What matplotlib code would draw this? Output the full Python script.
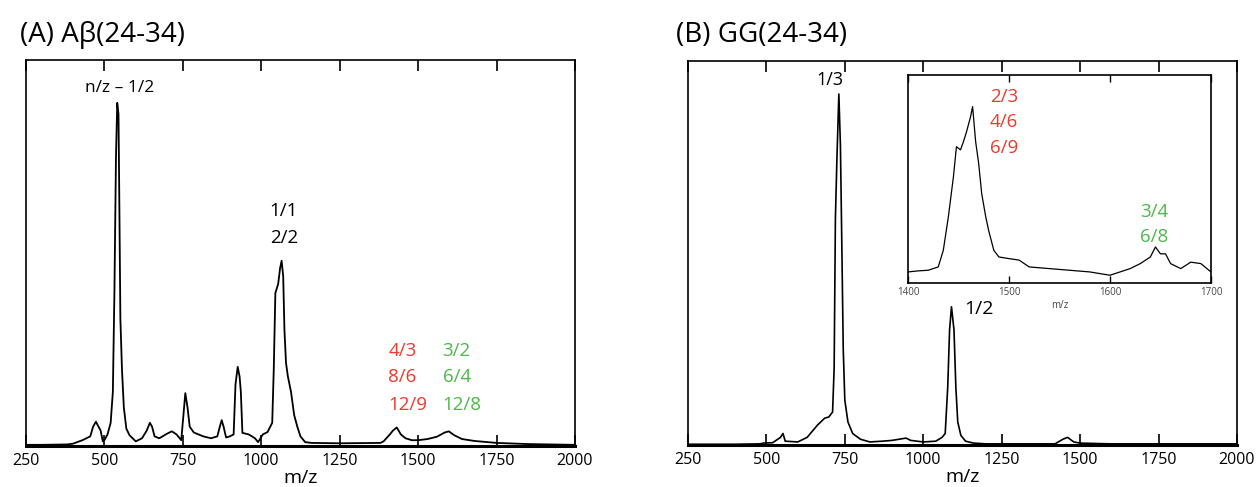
import matplotlib.pyplot as plt

plt.rcParams['font.family'] = ['Open Sans', 'DejaVu Sans']

RED = '#ee3a2e'
GREEN = '#4cb848'

# Panel A - Abeta(24-34), intensity as % of the axis height
mzA = [250, 300, 380, 400, 430, 455, 464, 473, 480, 488, 495, 500, 510, 520,
       527, 532, 537, 541, 545, 548, 551, 556, 562, 570, 580, 600, 620, 635,
       645, 652, 660, 675, 700, 715, 730, 745, 752, 758, 765, 772, 785, 800,
       815, 840, 860, 868, 874, 880, 888, 900, 912, 918, 925, 931, 935, 940,
       960, 980, 990, 1005, 1020, 1035, 1040, 1045, 1054, 1060, 1065, 1070,
       1074, 1079, 1085, 1095, 1105, 1115, 1125, 1140, 1160, 1250, 1380,
       1390, 1410, 1420, 1432, 1445, 1460, 1480, 1500, 1530, 1560, 1585,
       1598, 1615, 1640, 1680, 1750, 1850, 2000]
intA = [0.3, 0.3, 0.4, 0.6, 1.5, 2.5, 5.0, 6.3, 5.2, 4.0, 1.2, 1.5, 3.0, 6.0,
        14.0, 40.0, 75.0, 88.9, 86.0, 60.0, 33.0, 20.0, 10.0, 4.5, 2.8, 1.2,
        2.0, 4.0, 6.0, 5.0, 2.5, 2.0, 3.2, 3.8, 3.0, 1.5, 8.0, 13.7, 10.0,
        5.0, 3.5, 3.0, 2.5, 2.0, 2.5, 5.0, 6.7, 5.0, 2.2, 2.5, 3.0, 16.0,
        20.5, 18.0, 14.0, 3.4, 3.0, 2.0, 1.0, 3.0, 3.6, 6.0, 20.0, 39.6, 42.0,
        46.0, 48.0, 44.0, 30.0, 21.5, 18.0, 14.0, 8.0, 5.0, 2.5, 1.0, 0.8,
        0.7, 0.8, 1.2, 3.0, 4.0, 4.8, 3.0, 2.0, 1.5, 1.5, 1.8, 2.4, 3.5, 3.8,
        2.8, 1.8, 1.3, 0.8, 0.5, 0.3]

# Panel B - GG(24-34)
mzB = [250, 400, 480, 490, 520, 545, 553, 560, 600, 630, 663, 686, 699, 711,
       716, 720, 725, 731, 736, 740, 745, 750, 760, 775, 800, 830, 870, 900,
       945, 960, 1000, 1040, 1060, 1070, 1078, 1084, 1090, 1094, 1098, 1104,
       1110, 1120, 1135, 1160, 1200, 1420, 1445, 1460, 1480, 1500, 1600, 2000]
intB = [0.2, 0.2, 0.3, 0.5, 0.6, 2.0, 3.0, 1.0, 0.8, 2.0, 5.2, 7.0, 7.3, 8.6,
        20.0, 59.0, 75.0, 91.4, 78.0, 55.0, 25.0, 11.7, 6.0, 3.0, 1.5, 0.8,
        1.0, 1.2, 1.8, 1.2, 0.8, 1.0, 2.0, 3.0, 15.0, 30.0, 36.0, 33.0, 30.0,
        15.0, 6.0, 2.5, 1.0, 0.5, 0.3, 0.3, 1.5, 2.0, 0.8, 0.5, 0.3, 0.3]

# Inset of panel B, 1400-1700
mzIn = [1400, 1410, 1420, 1430, 1435, 1440, 1445, 1448, 1452, 1455, 1458,
        1462, 1464, 1467, 1470, 1473, 1477, 1480, 1485, 1490, 1500, 1510,
        1520, 1540, 1560, 1580, 1600, 1610, 1620, 1630, 1640, 1645, 1650,
        1655, 1660, 1670, 1680, 1690, 1700]
intIn = [5.3, 5.8, 6.1, 7.7, 15.7, 31.8, 51.0, 65.5, 64.0, 68.0, 72.7, 80.0,
         84.8, 68.0, 57.5, 43.0, 31.8, 25.0, 15.7, 12.5, 11.7, 11.0, 7.7, 6.9,
         6.1, 5.3, 3.7, 5.3, 6.9, 9.3, 12.5, 17.3, 14.0, 14.0, 9.3, 6.9, 10.0,
         9.3, 5.3]

mainTicks = [250, 500, 750, 1000, 1250, 1500, 1750, 2000]
insetTicks = [1400, 1500, 1600, 1700]

fig = plt.figure(figsize=(12.6, 4.87), dpi=100)
axA = fig.add_axes([0.0206, 0.0842, 0.4357, 0.7926])
axB = fig.add_axes([0.546, 0.0862, 0.4357, 0.7885])
axIn = fig.add_axes([0.7206, 0.419, 0.2405, 0.427])


def style_main(ax):
    ax.set_xlim(250, 2000)
    ax.set_ylim(0, 100)
    ax.set_xticks(mainTicks)
    ax.set_yticks([])
    ax.tick_params(axis='x', direction='in', top=True, length=8, width=1.2,
                   labelsize=11.5, pad=5)
    for s in ax.spines.values():
        s.set_linewidth(1.2)
    ax.spines['bottom'].set_linewidth(2.2)
    ax.set_xlabel('m/z', fontsize=14, labelpad=0)


axA.plot(mzA, intA, color='black', lw=1.3)
style_main(axA)
axB.plot(mzB, intB, color='black', lw=1.2)
style_main(axB)

# Panel A labels
axA.text(550, 92.7, 'n/z – 1/2', ha='center', va='center', fontsize=12.5)
axA.text(1072, 61, '1/1', ha='center', va='center', fontsize=13.5)
axA.text(1072, 54, '2/2', ha='center', va='center', fontsize=13.5)
for txt, y in zip(['4/3', '8/6', '12/9'], [24.6, 17.9, 10.6]):
    axA.text(1405, y, txt, ha='left', va='center', fontsize=13.5, color=RED)
for txt, y in zip(['3/2', '6/4', '12/8'], [24.6, 17.9, 10.6]):
    axA.text(1578, y, txt, ha='left', va='center', fontsize=13.5, color=GREEN)

# Panel B labels
axB.text(703, 95, '1/3', ha='center', va='center', fontsize=13)
axB.text(1130, 35.5, '1/2', ha='left', va='center', fontsize=14)

# Inset
axIn.plot(mzIn, intIn, color='black', lw=0.9)
axIn.set_xlim(1400, 1700)
axIn.set_ylim(0, 100)
axIn.set_xticks(insetTicks)
axIn.set_yticks([])
axIn.tick_params(axis='x', direction='in', top=True, length=5, width=1,
                 labelsize=7, pad=3, labelcolor='#444444')
for s in axIn.spines.values():
    s.set_linewidth(1.2)
axIn.set_xlabel('m/z', fontsize=7, labelpad=1, color='#444444')
for txt, y in zip(['2/3', '4/6', '6/9'], [89.6, 77.5, 64.9]):
    axIn.text(1481, y, txt, ha='left', va='center', fontsize=13.5, color=RED)
for txt, y in zip(['3/4', '6/8'], [34, 22.3]):
    axIn.text(1630, y, txt, ha='left', va='center', fontsize=13.5, color=GREEN)

fig.text(20 / 1260, 1 - 35 / 487, '(A) Aβ(24-34)', fontsize=20, va='center')
fig.text(676 / 1260, 1 - 35 / 487, '(B) GG(24-34)', fontsize=20, va='center')

fig.savefig('out.png', dpi=100)
